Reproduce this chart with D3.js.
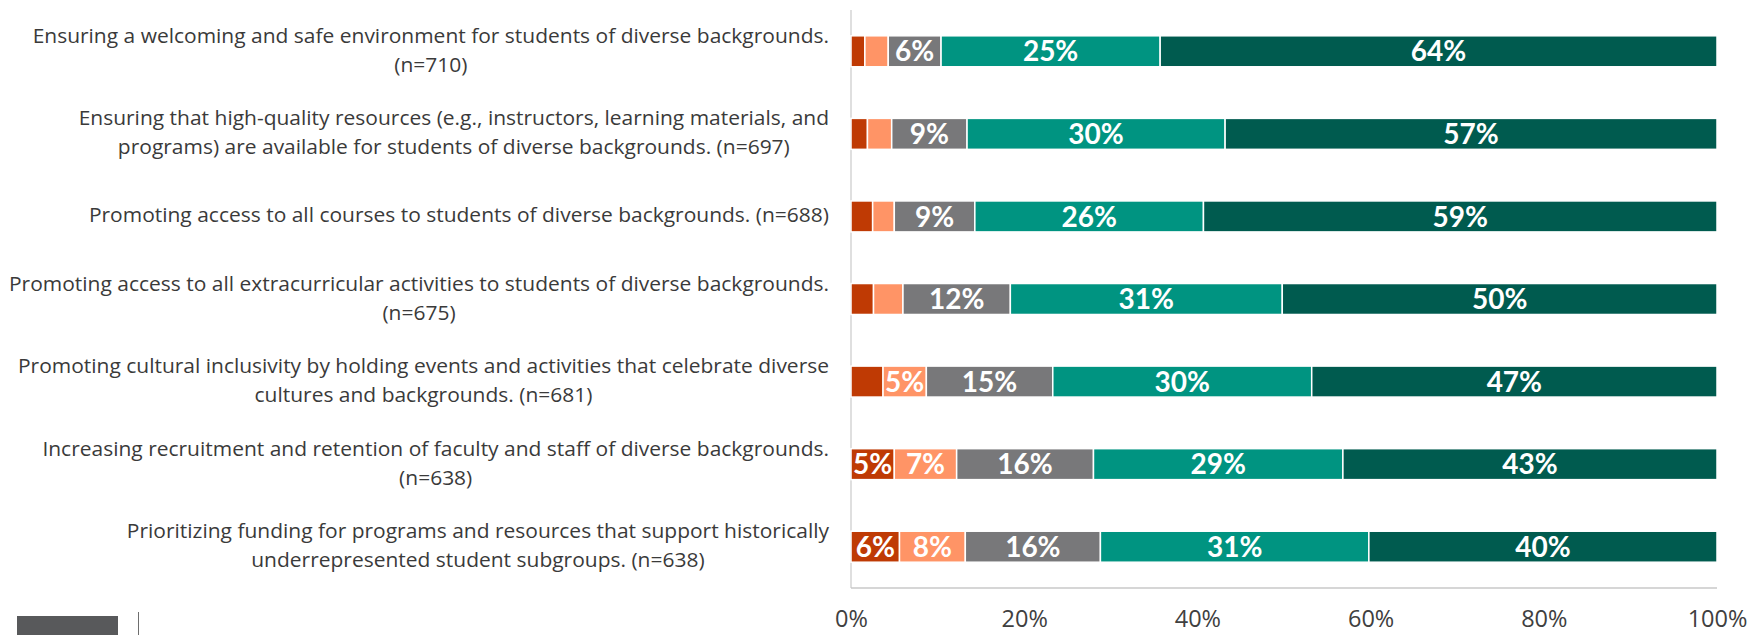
<!DOCTYPE html>
<html>
<head>
<meta charset="utf-8">
<script src="https://cdn.jsdelivr.net/npm/d3@7"></script>
<style>
  html, body { margin: 0; padding: 0; background: #fff; }
  svg { display: block; }
</style>
</head>
<body>
<svg id="chart" width="1763" height="635"></svg>
<script>
// Survey items (line breaks follow the wrapped axis labels)
const categories = [
  "Ensuring a welcoming and safe environment for students of diverse backgrounds.\n(n=710)",
  "Ensuring that high-quality resources (e.g., instructors, learning materials, and\nprograms) are available for students of diverse backgrounds. (n=697)",
  "Promoting access to all courses to students of diverse backgrounds. (n=688)",
  "Promoting access to all extracurricular activities to students of diverse backgrounds.\n(n=675)",
  "Promoting cultural inclusivity by holding events and activities that celebrate diverse\ncultures and backgrounds. (n=681)",
  "Increasing recruitment and retention of faculty and staff of diverse backgrounds.\n(n=638)",
  "Prioritizing funding for programs and resources that support historically\nunderrepresented student subgroups. (n=638)"
];

// Share of respondents (%) per rating, one array per rating level
const notAtAll   = [1.6, 1.9, 2.5, 2.6, 3.7, 5.0, 5.6];
const slightly   = [2.7, 2.8, 2.5, 3.4, 5.0, 7.2, 7.6];
const moderately = [6.1, 8.7, 9.3, 12.4, 14.6, 15.8, 15.6];
const very       = [25.3, 29.8, 26.4, 31.4, 29.9, 28.8, 31.0];
const extremely  = [64.3, 56.8, 59.3, 50.2, 46.8, 43.2, 40.2];

const seriesKeys = ["Not at all important", "Slightly important", "Moderately important", "Very important", "Extremely important"];
const seriesValues = [notAtAll, slightly, moderately, very, extremely];
const seriesColors = ["#BF3A04", "#FF9466", "#78787A", "#009481", "#005B4F"];

const tickValues = [0, 20, 40, 60, 80, 100];
const tickLabels = ["0%", "20%", "40%", "60%", "80%", "100%"];

// Rows table for d3.stack
const table = categories.map((c, i) => {
  const row = { category: c };
  seriesKeys.forEach((k, j) => { row[k] = seriesValues[j][i]; });
  return row;
});

const svg = d3.select("#chart");
const plot = { left: 851, right: 1717, top: 10, bottom: 588 };

const x = d3.scaleLinear().domain([0, 100]).range([plot.left, plot.right]);
const y = d3.scaleBand()
  .domain(categories)
  .range([plot.top, plot.bottom])
  .paddingInner(0.625)
  .paddingOuter(0.3125);

const color = d3.scaleOrdinal().domain(seriesKeys).range(seriesColors);
const stacked = d3.stack().keys(seriesKeys)(table);

// Axis lines
svg.append("line")
  .attr("x1", plot.left).attr("x2", plot.left)
  .attr("y1", plot.top).attr("y2", plot.bottom)
  .attr("stroke", "#D4D4D4").attr("stroke-width", 1.5);
svg.append("line")
  .attr("x1", plot.left).attr("x2", plot.right)
  .attr("y1", plot.bottom).attr("y2", plot.bottom)
  .attr("stroke", "#C8C8C8").attr("stroke-width", 1.5);

// Stacked segments
const layer = svg.append("g").selectAll("g")
  .data(stacked)
  .join("g")
  .attr("fill", d => color(d.key));

layer.selectAll("rect")
  .data(d => d)
  .join("rect")
  .attr("x", d => x(d[0]))
  .attr("y", d => y(d.data.category))
  .attr("width", d => x(d[1]) - x(d[0]))
  .attr("height", y.bandwidth())
  .attr("stroke", "#ffffff")
  .attr("stroke-width", 1.5);

// Value labels inside segments
const fmt = v => d3.format(".0f")(v) + "%";
layer.selectAll("text")
  .data(d => d.map(s => ({ s, key: d.key })))
  .join("text")
  .filter(d => (d.s[1] - d.s[0]) >= 4.5)
  .attr("x", d => (x(d.s[0]) + x(d.s[1])) / 2)
  .attr("y", d => y(d.s.data.category) + y.bandwidth() / 2)
  .attr("dy", "0.36em")
  .attr("text-anchor", "middle")
  .attr("fill", "#ffffff")
  .style("font-family", "Lato, 'Open Sans', sans-serif")
  .style("font-weight", "700")
  .style("font-size", "28px")
  .text(d => fmt(d.s[1] - d.s[0]));

// X axis tick labels
const xAxis = d3.axisBottom(x)
  .tickValues(tickValues)
  .tickFormat((d, i) => tickLabels[i])
  .tickSize(0)
  .tickPadding(22);
const gx = svg.append("g")
  .attr("transform", `translate(0,${plot.bottom})`)
  .call(xAxis);
gx.select(".domain").remove();
gx.selectAll("text")
  .attr("fill", "#404040")
  .style("font-family", "'Open Sans', sans-serif")
  .style("font-size", "23.5px");

// Category labels: wrapped lines centred on each other, block right-aligned
const labelRight = 829;
const lineHeight = 29;
const squeeze = { ref: 3, width: 820 };
const labels = svg.append("g")
  .style("font-family", "'Open Sans', sans-serif")
  .style("font-size", "20.5px")
  .attr("fill", "#3A3A3A");

const blocks = categories.map(c => {
  const lines = c.split("\n");
  const g = labels.append("g");
  const texts = lines.map(l => g.append("text").attr("text-anchor", "middle").text(l));
  return { c, lines, texts };
});
const refW = blocks[squeeze.ref].texts[0].node().getComputedTextLength();
const k = squeeze.width / refW;

blocks.forEach(b => {
  const widths = b.texts.map(t => t.node().getComputedTextLength() * k);
  const maxW = d3.max(widths);
  const cx = labelRight - maxW / 2;
  const cy = y(b.c) + y.bandwidth() / 2;
  const n = b.lines.length;
  b.texts.forEach((t, i) => {
    t.attr("x", cx)
      .attr("y", cy + 6 + (i - (n - 1) / 2) * lineHeight)
      .attr("textLength", widths[i])
      .attr("lengthAdjust", "spacingAndGlyphs");
  });
});

// Footer marks along the bottom edge
svg.append("rect")
  .attr("x", 17).attr("y", 616).attr("width", 101).attr("height", 19)
  .attr("fill", "#58595B");
svg.append("line")
  .attr("x1", 138.5).attr("x2", 138.5).attr("y1", 612).attr("y2", 635)
  .attr("stroke", "#6E6E6E").attr("stroke-width", 1);
</script>
</body>
</html>
